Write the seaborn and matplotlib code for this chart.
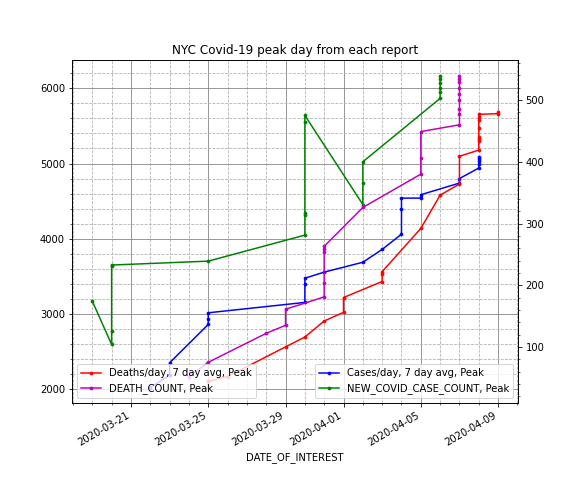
import pandas as pd
import matplotlib.pyplot as plt
import seaborn as sns

# Peak day / peak value reported in each successive report

# Cases/day, 7 day avg (left axis)
case_avg_dates = ['2020-03-22', '2020-03-23', '2020-03-23', '2020-03-25', '2020-03-25', '2020-03-25',
                  '2020-03-30', '2020-03-30', '2020-03-30', '2020-03-31', '2020-04-02', '2020-04-03',
                  '2020-04-04', '2020-04-04', '2020-04-04', '2020-04-05', '2020-04-05', '2020-04-07',
                  '2020-04-07', '2020-04-08', '2020-04-08', '2020-04-08', '2020-04-08', '2020-04-08']
case_avg_peaks = [2020, 2186, 2350, 2860, 2930, 3015,
                  3153, 3395, 3475, 3556, 3687, 3858,
                  4060, 4390, 4540, 4540, 4585, 4740,
                  4800, 4940, 4990, 5030, 5060, 5085]

# NEW_COVID_CASE_COUNT (left axis)
case_count_dates = ['2020-03-19', '2020-03-20', '2020-03-20', '2020-03-20', '2020-03-20', '2020-03-25',
                    '2020-03-30', '2020-03-30', '2020-03-30', '2020-03-30', '2020-03-30', '2020-04-02',
                    '2020-04-02', '2020-04-02', '2020-04-06', '2020-04-06', '2020-04-06', '2020-04-06',
                    '2020-04-06', '2020-04-06']
case_count_peaks = [3170, 2594, 2771, 3636, 3650, 3702,
                    4048, 4314, 4345, 5551, 5640, 4455,
                    4736, 5023, 5866, 5950, 6010, 6070,
                    6130, 6163]

# Deaths/day, 7 day avg (right axis)
death_avg_dates = ['2020-03-25', '2020-03-25', '2020-03-26', '2020-03-29', '2020-03-30', '2020-03-31',
                   '2020-04-01', '2020-04-01', '2020-04-03', '2020-04-03', '2020-04-03', '2020-04-05',
                   '2020-04-06', '2020-04-07', '2020-04-07', '2020-04-08', '2020-04-08', '2020-04-08',
                   '2020-04-08', '2020-04-08', '2020-04-08', '2020-04-08', '2020-04-08', '2020-04-09',
                   '2020-04-09']
death_avg_peaks = [34, 44, 52, 100, 116, 142,
                   156, 180, 206, 218, 222, 292,
                   346, 364, 409, 419, 433, 437,
                   441, 455, 467, 472, 477, 478,
                   481]

# DEATH_COUNT (right axis)
death_count_dates = ['2020-03-24', '2020-03-25', '2020-03-28', '2020-03-29', '2020-03-29', '2020-03-31',
                     '2020-03-31', '2020-03-31', '2020-03-31', '2020-03-31', '2020-04-02', '2020-04-05',
                     '2020-04-05', '2020-04-05', '2020-04-07', '2020-04-07', '2020-04-07', '2020-04-07',
                     '2020-04-07', '2020-04-07', '2020-04-07', '2020-04-07', '2020-04-07']
death_count_peaks = [52, 75, 122, 135, 161, 181,
                     203, 254, 259, 263, 326, 380,
                     406, 449, 460, 477, 486, 500,
                     510, 519, 529, 535, 539]


def make_df(dates, peaks):
    return pd.DataFrame({'DATE_OF_INTEREST': pd.to_datetime(dates), 'peak': peaks})


fig, ax = plt.subplots(figsize=(8, 7), dpi=72)

line_kw = dict(marker='.', estimator=None, sort=False)

sns.lineplot(data=make_df(case_avg_dates, case_avg_peaks), x='DATE_OF_INTEREST', y='peak',
             ax=ax, color='b', markeredgecolor='b', label='Cases/day, 7 day avg, Peak', **line_kw)
sns.lineplot(data=make_df(case_count_dates, case_count_peaks), x='DATE_OF_INTEREST', y='peak',
             ax=ax, color='g', markeredgecolor='g', label='NEW_COVID_CASE_COUNT, Peak', **line_kw)

ax2 = ax.twinx()
sns.lineplot(data=make_df(death_avg_dates, death_avg_peaks), x='DATE_OF_INTEREST', y='peak',
             ax=ax2, color='r', markeredgecolor='r', label='Deaths/day, 7 day avg, Peak', **line_kw)
sns.lineplot(data=make_df(death_count_dates, death_count_peaks), x='DATE_OF_INTEREST', y='peak',
             ax=ax2, color='m', markeredgecolor='m', label='DEATH_COUNT, Peak', **line_kw)

ax.set_ylabel('')
ax2.set_ylabel('')
ax.set_xlabel('DATE_OF_INTEREST')
ax.set_title('NYC Covid-19 peak day from each report')

ax.minorticks_on()
ax2.minorticks_on()
ax.grid(which='major', linestyle='-', color='grey')
ax.grid(which='minor', linestyle='--')

ax.legend(loc='lower right')
ax2.legend(loc='lower left')

fig.autofmt_xdate()
plt.savefig('out.png', dpi=72)
